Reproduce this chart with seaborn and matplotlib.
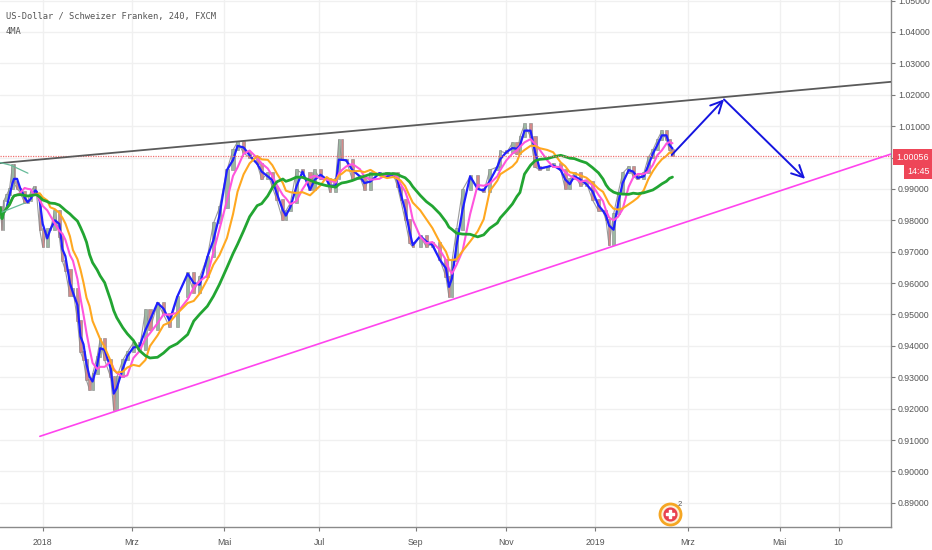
import numpy as np
import pandas as pd
import seaborn as sns
import matplotlib
matplotlib.use("Agg")
import matplotlib.pyplot as plt

# 4h USD/CHF closes (days counted from 2018-01-01)
days = [-28, -27, -26, -24, -22, -20, -19, -17, -15, -12,
        -10, -8, -6, -5, -4, -2, 0, 3, 5, 8,
        11, 13, 15, 18, 20, 23, 25, 27, 29, 31,
        33, 36, 38, 41, 45, 47, 49, 53, 56, 60,
        64, 68, 71, 76, 80, 84, 89, 96, 100, 104,
        109, 113, 117, 122, 126, 129, 133, 137, 142, 145,
        149, 152, 155, 159, 161, 164, 168, 172, 177, 180,
        184, 188, 190, 194, 196, 198, 201, 205, 210, 213,
        217, 223, 228, 232, 235, 237, 240, 243, 245, 250,
        254, 258, 263, 267, 269, 271, 274, 278, 283, 288,
        292, 296, 301, 303, 307, 311, 314, 316, 319, 323,
        326, 329, 334, 338, 343, 346, 349, 352, 356, 360,
        364, 368, 371, 373, 375, 378, 381, 384, 388, 391,
        394, 398, 401, 404, 407, 410, 413, 415, 417]
closes = [0.9840, 0.9770, 0.9860, 0.9880, 0.9900, 0.9976, 0.9920, 0.9900, 0.9890, 0.9855,
          0.9860, 0.9890, 0.9906, 0.9890, 0.9880, 0.9770, 0.9715, 0.9770, 0.9770, 0.9830,
          0.9747, 0.9670, 0.9640, 0.9560, 0.9580, 0.9480, 0.9380, 0.9355, 0.9290, 0.9260,
          0.9310, 0.9365, 0.9420, 0.9355, 0.9300, 0.9196, 0.9300, 0.9355, 0.9380, 0.9410,
          0.9387, 0.9514, 0.9450, 0.9537, 0.9500, 0.9460, 0.9556, 0.9630, 0.9570, 0.9620,
          0.9683, 0.9790, 0.9840, 0.9960, 1.0024, 1.0050, 1.0014, 1.0000, 0.9980, 0.9930,
          0.9950, 0.9906, 0.9865, 0.9800, 0.9830, 0.9855, 0.9960, 0.9950, 0.9897, 0.9960,
          0.9930, 0.9930, 0.9890, 0.9930, 1.0056, 0.9992, 0.9990, 0.9930, 0.9940, 0.9897,
          0.9950, 0.9950, 0.9940, 0.9950, 0.9906, 0.9865, 0.9800, 0.9727, 0.9715, 0.9750,
          0.9715, 0.9727, 0.9674, 0.9620, 0.9556, 0.9670, 0.9770, 0.9897, 0.9940, 0.9900,
          0.9890, 0.9960, 0.9970, 1.0020, 1.0014, 1.0046, 1.0010, 1.0066, 1.0105, 1.0066,
          0.9970, 0.9960, 0.9970, 0.9980, 0.9960, 0.9900, 0.9930, 0.9950, 0.9910, 0.9920,
          0.9865, 0.9830, 0.9830, 0.9800, 0.9720, 0.9820, 0.9887, 0.9950, 0.9970, 0.9940,
          0.9930, 0.9950, 1.0000, 1.0024, 1.0056, 1.0085, 1.0056, 1.0024, 1.0006]

last_price = 1.00056
countdown = "14:45"

# the four moving averages of the 4MA script (window in days)
ma_windows = [5, 13, 24, 50]
ma_colors = ["#1f1fff", "#ff55dd", "#ffa820", "#22a532"]
ma_widths = [1.6, 1.5, 1.5, 2.0]

# hand-drawn lines on the chart: (day, price) anchors
resistance_days = [-28.3, 561.7]
resistance_price = [0.9982, 1.0241]
support_days = [-1.9, 561.7]
support_price = [0.9112, 1.0011]
arrow_days = [416.5, 451.1, 504.8]
arrow_price = [1.0008, 1.0185, 0.9932]
fan_days = [-28.3, -20.9, -9.8]
fan_price = [0.9984, 0.9975, 0.9950]
fan2_days = [-27.0, -11.8]
fan2_price = [0.9826, 0.9855]
event_day = 415.6
event_price = 0.8865

tick_days = [0, 59, 120, 183, 247, 307, 366, 427, 488, 527]
tick_labels = ["2018", "Mrz", "Mai", "Jul", "Sep", "Nov", "2019", "Mrz", "Mai", "10"]
price_ticks = [round(0.89 + 0.01 * i, 2) for i in range(17)]

df = pd.DataFrame({"day": days, "close": closes})
df["time"] = pd.Timestamp("2018-01-01") + pd.to_timedelta(df["day"], unit="D")
df["open"] = df["close"].shift(1).fillna(df["close"].iloc[0])
for i, w in enumerate(ma_windows):
    df[f"ma{i}"] = df.rolling(f"{w}D", on="time", min_periods=1)["close"].mean()

sns.set_theme(style="white")
plt.rcParams["font.family"] = ["Liberation Sans", "DejaVu Sans"]

fig = plt.figure(figsize=(9.32, 5.5), dpi=100)
ax = fig.add_axes([0, 0.0418, 0.956, 0.9582])

# grid
for p in price_ticks:
    ax.axhline(p, color="#f0f0f0", lw=1, zorder=0)
for t in tick_days:
    ax.axvline(t, color="#f0f0f0", lw=1, zorder=0)

# candles
gap = df["day"].diff().fillna(1.0)
width = np.minimum(gap, 3.0) * 0.7
up = df["close"] >= df["open"]
bottoms = np.minimum(df["open"], df["close"])
heights = np.abs(df["close"] - df["open"]) + 0.0004
ax.plot(df["day"], df["close"], color="#9a9a9a", lw=0.8, zorder=2)
ax.bar(df["day"][up], heights[up], bottom=bottoms[up], width=width[up],
       color="#9bb8a2", edgecolor="#858585", linewidth=0.4, zorder=3)
ax.bar(df["day"][~up], heights[~up], bottom=bottoms[~up], width=width[~up],
       color="#d48a8a", edgecolor="#858585", linewidth=0.4, zorder=3)

# moving averages
for i in reversed(range(4)):
    sns.lineplot(data=df, x="day", y=f"ma{i}", ax=ax, color=ma_colors[i],
                 lw=ma_widths[i], zorder=4 + i * 0.1, estimator=None)

# last price line
ax.axhline(last_price, color="#f07070", lw=0.9, ls=(0, (1, 1)), zorder=5)

# trend lines
sns.lineplot(x=resistance_days, y=resistance_price, ax=ax, color="#5a5a5a", lw=1.3, zorder=6)
sns.lineplot(x=support_days, y=support_price, ax=ax, color="#ff44ee", lw=1.2, zorder=6)
ax.plot(fan_days, fan_price, color="#66bb99", lw=0.9, zorder=6)
ax.plot(fan2_days, fan2_price, color="#66bb99", lw=0.9, zorder=6)

# projected path arrows
for k in range(2):
    ax.annotate("", xy=(arrow_days[k + 1], arrow_price[k + 1]),
                xytext=(arrow_days[k], arrow_price[k]),
                arrowprops=dict(arrowstyle="->,head_length=0.7,head_width=0.35",
                                color="#1515e0", lw=1.4, shrinkA=0, shrinkB=0),
                zorder=7)

# event icon (Swiss flag)
ax.scatter([event_day], [event_price], s=230, color="#fdf0d8", edgecolor="#f5a623",
           linewidth=2.0, zorder=8, clip_on=False)
ax.scatter([event_day], [event_price], s=85, color="#e8404f", zorder=9, clip_on=False)
ax.scatter([event_day], [event_price], s=26, marker="P", color="white", zorder=10, clip_on=False)
ax.text(event_day + 5, event_price + 0.0025, "2", fontsize=5.5, color="#555", zorder=10)

ax.set_xlim(-28.3, 561.7)
ax.set_ylim(0.88232, 1.05016)
ax.yaxis.tick_right()
ax.set_yticks(price_ticks)
# the 1.00000 label sits under the last-price box
ax.set_yticklabels(["" if p == 1.0 else f"{p:.5f}" for p in price_ticks])
ax.set_xticks(tick_days)
ax.set_xticklabels(tick_labels)
ax.tick_params(axis="both", colors="#7a7a7a", labelcolor="#555555", labelsize=6.3,
               length=3, width=0.8, direction="out", pad=2)
ax.tick_params(axis="y", labelright=True, labelleft=False, right=True, left=False)
ax.tick_params(axis="x", bottom=True, pad=5)
ax.set_xlabel("")
ax.set_ylabel("")
for s in ["top", "left"]:
    ax.spines[s].set_visible(False)
for s in ["right", "bottom"]:
    ax.spines[s].set_color("#8a8a8a")
    ax.spines[s].set_linewidth(1.0)

# header text
fig.text(6 / 932, 1 - 16 / 550, "US-Dollar / Schweizer Franken, 240, FXCM",
         family="DejaVu Sans Mono", fontsize=6.3, color="#555555", va="center")
fig.text(6 / 932, 1 - 31 / 550, "4MA",
         family="DejaVu Sans Mono", fontsize=6.3, color="#555555", va="center")

# last price label
fig.text(896 / 932, 1 - 157 / 550, f"{last_price:.5f}", fontsize=6.4, color="white",
         va="center", ha="left",
         bbox=dict(boxstyle="square,pad=0.35", fc="#ee4658", ec="none"))
fig.text(907 / 932, 1 - 172 / 550, countdown, fontsize=6.4, color="white",
         va="center", ha="left",
         bbox=dict(boxstyle="square,pad=0.3", fc="#ee4658", ec="none"))

fig.savefig("out.png", dpi=100)
